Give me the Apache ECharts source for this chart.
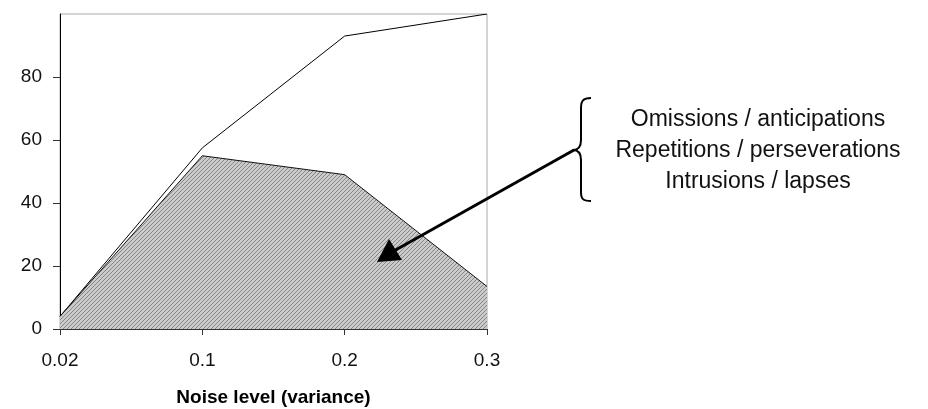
<!DOCTYPE html>
<html><head><meta charset="utf-8">
<script src="https://cdn.jsdelivr.net/npm/echarts@6/dist/echarts.min.js"></script>
<style>html,body{margin:0;padding:0;background:#fff}#c{width:928px;height:409px}</style>
</head><body><div id="c"></div>
<script>
const categories = ['0.02', '0.1', '0.2', '0.3'];
const totalValues = [4, 57.5, 93, 100];
const errorValues = [4, 55, 49, 13.5];
const yTicks = [0, 20, 40, 60, 80];
const annotationLines = ['Omissions / anticipations', 'Repetitions / perseverations', 'Intrusions / lapses'];

const pc = document.createElement('canvas');
pc.width = 4; pc.height = 4;
const g = pc.getContext('2d');
g.fillStyle = '#cbcbcb'; g.fillRect(0, 0, 4, 4);
g.strokeStyle = '#858585'; g.lineWidth = 1;
g.beginPath(); g.moveTo(-1, 5); g.lineTo(5, -1); g.stroke();

const font = '"Liberation Sans", Arial, sans-serif';
const braceStyle = { stroke: '#000', lineWidth: 2, fill: null };
function bz(x1, y1, c1x, c1y, c2x, c2y, x2, y2) {
  return { type: 'bezierCurve', shape: { x1: x1, y1: y1, cpx1: c1x, cpy1: c1y, cpx2: c2x, cpy2: c2y, x2: x2, y2: y2 }, style: braceStyle, z: 10 };
}
function ln(x1, y1, x2, y2, w) {
  return { type: 'line', shape: { x1: x1, y1: y1, x2: x2, y2: y2 }, style: { stroke: '#000', lineWidth: w }, z: 10 };
}
function txt(s, y) {
  return { type: 'text', x: 758, y: y, style: { text: s, font: '23px ' + font, fill: '#111', align: 'center', verticalAlign: 'middle' }, z: 10 };
}
const chart = echarts.init(document.getElementById('c'));
chart.setOption({
  animation: false,
  backgroundColor: '#fff',
  grid: { left: 60, right: 441, top: 14, bottom: 80, containLabel: false, outerBoundsMode: 'none',
    show: true, borderColor: '#aaa', borderWidth: 1 },
  xAxis: {
    type: 'category', data: categories, boundaryGap: false,
    name: 'Noise level (variance)', nameLocation: 'middle', nameGap: 59,
    nameTextStyle: { fontFamily: font, fontSize: 19, fontWeight: 'bold', color: '#000' },
    axisLine: { lineStyle: { color: '#333', width: 1 } },
    axisTick: { show: true, length: 6, alignWithLabel: true, lineStyle: { color: '#333' } },
    axisLabel: { margin: 22, fontFamily: font, fontSize: 19, color: '#111' },
    splitLine: { show: false }
  },
  yAxis: {
    type: 'value', min: 0, max: 100, interval: 20,
    axisLine: { show: true, lineStyle: { color: '#000', width: 1 } },
    axisTick: { show: true, length: 7, customValues: yTicks, lineStyle: { color: '#333' } },
    axisLabel: { margin: 18, fontFamily: font, fontSize: 19, color: '#111', customValues: yTicks },
    splitLine: { show: false }
  },
  series: [
    { type: 'line', data: totalValues, symbol: 'none', lineStyle: { color: '#000', width: 1 }, z: 2 },
    { type: 'line', data: errorValues, symbol: 'none', lineStyle: { color: '#111', width: 1 },
      areaStyle: { color: { image: pc, repeat: 'repeat' }, opacity: 1 }, z: 3 }
  ],
  graphic: [
    bz(591, 98, 583, 98, 581, 101, 581, 108),
    ln(581, 108, 581, 140, 2),
    bz(581, 140, 581, 147, 578, 150, 573, 150),
    bz(573, 150, 578, 150, 581, 153, 581, 160),
    ln(581, 160, 581, 192, 2),
    bz(581, 192, 581, 199, 583, 201, 591, 201),
    ln(574, 150, 392, 252, 3),
    { type: 'polygon', shape: { points: [[377, 262], [389, 239], [402, 260]] }, style: { fill: '#000' }, z: 10 },
    txt(annotationLines[0], 120),
    txt(annotationLines[1], 151),
    txt(annotationLines[2], 182)
  ]
});
</script></body></html>
